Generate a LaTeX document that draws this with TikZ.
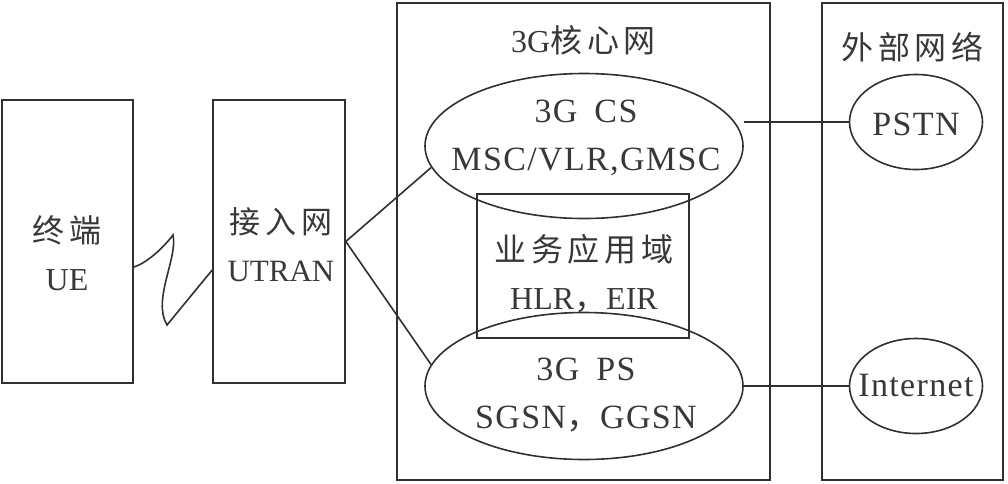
\documentclass[tikz,border=0pt]{standalone}
\usepackage{fontspec}
\setmainfont{Liberation Serif}
\newfontfamily\wide[LetterSpace=4]{Liberation Serif}
\newfontfamily\cjk[LetterSpace=15]{Noto Sans CJK SC}
\usepackage{tikz}
\usetikzlibrary{positioning,shapes.geometric}
\definecolor{ink}{HTML}{303030}
\definecolor{txt}{HTML}{383838}

\begin{document}
\begin{tikzpicture}[
  x=1pt, y=-1pt,
  font=\fontsize{32}{48}\selectfont, text=txt,
  box/.style={draw=ink, line width=1.6pt, inner sep=0pt},
  oval/.style={ellipse, draw=ink, line width=1.6pt, inner sep=0pt},
  lbl/.style={inner sep=0pt, align=center},
  big/.style={font=\fontsize{34}{48}\selectfont\wide},
  link/.style={ink, line width=1.6pt}
]
\useasboundingbox (0,0) rectangle (1008,483);
% terminal and access network
\node[box, minimum width=131pt, minimum height=283pt] (ue) at (67.5,241.5) {};
\node[lbl] (uetext) at (67,253) {{\cjk 终端}\\UE};
\node[box, minimum width=132pt, minimum height=283pt] (utran) at (279,241.5) {};
\node[lbl, font=\fontsize{31}{48}\selectfont] (utrantext) at (281,245) {{\cjk 接入网}\\UTRAN};
% core network
\node[box, minimum width=373pt, minimum height=477pt] (core) at (583.5,241.5) {};
\node[lbl, below=23pt of core.north] (coretitle) {3G{\cjk 核心网}};
\node[oval, minimum width=318pt, minimum height=145pt] (cs) at (584,146) {};
\node[lbl, big] (cstext) at (586,138) {3G\enspace CS\\MSC/VLR,GMSC};
\node[oval, minimum width=318pt, minimum height=147pt] (ps) at (584,386) {};
\node[lbl, big] (pstext) at (586,395) {3G\enspace PS\\SGSN{\cjk ，}GGSN};
\node[box, minimum width=212pt, minimum height=144pt] (svc) at (583,266) {};
\node[lbl] (svctext) at (584,274) {{\cjk 业务应用域}\\HLR{\cjk ，}EIR};
% external network
\node[box, minimum width=181pt, minimum height=477pt] (ext) at (912.5,241.5) {};
\node[lbl, below=30pt of ext.north] (exttitle) {{\cjk 外部网络}};
\node[oval, minimum width=133pt, minimum height=95pt] (pstn) at (916,122) {};
\node[lbl, big] (pstntext) at (916,124) {PSTN};
\node[oval, minimum width=133pt, minimum height=95pt] (inet) at (916,386) {};
\node[lbl, big] (inettext) at (916,386) {Internet};
% links
\draw[link] ([yshift=-25.5pt]ue.east) .. controls (150,262) and (168,242) .. (173,235)
  .. controls (178,258) and (152,300) .. (167,325) -- ([yshift=-28.5pt]utran.west);
\draw[link] (utran.east) -- (cs.188);
\draw[link] (utran.east) -- (ps.172);
\draw[link] (cs.east |- pstn.west) -- (pstn.west);
\draw[link] (ps.east) -- (inet.west);
\end{tikzpicture}
\end{document}
